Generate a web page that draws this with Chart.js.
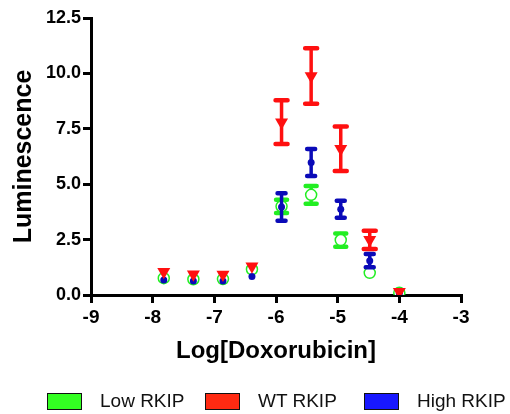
<!DOCTYPE html>
<html>
<head>
<meta charset="utf-8">
<script src="https://cdn.jsdelivr.net/npm/chart.js@4.4.0/dist/chart.umd.min.js"></script>
<style>
  body { margin: 0; background: #fff; font-family: "Liberation Sans", Arial, sans-serif; }
  #wrap { position: relative; width: 510px; height: 414px; }
  .legend { position: absolute; top: 391px; height: 20px; display: flex; align-items: center; font-size: 19px; color: #111; }
  .legend span.box { display: inline-block; width: 33px; height: 15px; border: 1.5px solid #111; margin-right: 18px; }
</style>
</head>
<body>
<div id="wrap">
  <canvas id="myChart" width="510" height="414"></canvas>
  <div class="legend" style="left:47px"><span class="box" style="background:#33ff22"></span>Low RKIP</div>
  <div class="legend" style="left:205px"><span class="box" style="background:#ff2a12"></span>WT RKIP</div>
  <div class="legend" style="left:364px"><span class="box" style="background:#1818ff"></span>High RKIP</div>
</div>
<script>
// log concentrations (3-fold dilutions)
let logDox = [-7.82, -7.34, -6.86, -6.39, -5.91, -5.43, -4.95, -4.48, -4.0]

let lowRkip    = [0.76, 0.71, 0.72, 1.16, 4.00, 4.52, 2.48, 1.00, 0.10]
let lowRkipErr = [0, 0, 0, 0, 0.30, 0.40, 0.30, 0, 0]

let wtRkip    = [1.05, 0.94, 0.92, 1.30, 7.80, 9.88, 6.60, 2.49, 0.15]
let wtRkipErr = [0, 0, 0, 0, 0.99, 1.25, 1.00, 0.41, 0]

let highRkip    = [0.68, 0.63, 0.63, 0.83, 3.97, 5.98, 3.87, 1.55, 0.08]
let highRkipErr = [0, 0, 0, 0, 0.62, 0.61, 0.38, 0.30, 0]

let xTicks = [-9, -8, -7, -6, -5, -4, -3]
let yTicks = [0, 2.5, 5, 7.5, 10, 12.5]

function toPoints(ys) {
    return ys.map((v, i) => ({ x: logDox[i], y: v }))
}

// error bars drawn just before each dataset so markers sit on top
const errorBars = {
    id: 'errorBars',
    beforeDatasetDraw(chart, args) {
        let ds = chart.data.datasets[args.index]
        if (!ds.err) return
        let ctx = chart.ctx, xs = chart.scales.x, ys = chart.scales.y
        ctx.save()
        ctx.strokeStyle = ds.barColor
        ctx.lineCap = 'round'
        ds.data.forEach((p, i) => {
            let e = ds.err[i]
            if (!e) return
            let px = xs.getPixelForValue(p.x)
            let top = ys.getPixelForValue(p.y + e)
            let bot = ys.getPixelForValue(p.y - e)
            let w = ds.capWidth / 2
            ctx.lineWidth = 3.5
            ctx.beginPath()
            ctx.moveTo(px, top); ctx.lineTo(px, bot)
            ctx.stroke()
            ctx.lineWidth = 4.5
            ctx.beginPath()
            ctx.moveTo(px - w, top); ctx.lineTo(px + w, top)
            ctx.moveTo(px - w, bot); ctx.lineTo(px + w, bot)
            ctx.stroke()
        })
        ctx.restore()
    }
}

let ctx = document.querySelector('#myChart').getContext('2d')
let myChart = new Chart(ctx, {
    type: 'scatter',
    data: {
        datasets: [{
            label: 'Low RKIP',
            data: toPoints(lowRkip),
            err: lowRkipErr,
            barColor: '#22ee22',
            capWidth: 11,
            pointStyle: 'circle',
            pointRadius: 5.5,
            pointBorderWidth: 1.5,
            borderColor: '#22ee22',
            backgroundColor: '#ffffff',
            order: 2
        }, {
            label: 'WT RKIP',
            data: toPoints(wtRkip),
            err: wtRkipErr,
            barColor: '#ff1010',
            capWidth: 12,
            pointStyle: 'triangle',
            rotation: 180,
            pointRadius: 7.5,
            pointBorderWidth: 0,
            borderColor: '#ff1010',
            backgroundColor: '#ff1010',
            order: 0
        }, {
            label: 'High RKIP',
            data: toPoints(highRkip),
            err: highRkipErr,
            barColor: '#0a0ab8',
            capWidth: 8,
            pointStyle: 'circle',
            pointRadius: 3.5,
            pointBorderWidth: 0,
            borderColor: '#0a0ab8',
            backgroundColor: '#0a0ab8',
            order: 1
        }]
    },
    options: {
        responsive: false,
        animation: false,
        layout: { padding: { left: 0, top: 18, right: 49, bottom: 0 } },
        plugins: {
            legend: { display: false },
            tooltip: { enabled: false }
        },
        scales: {
            x: {
                type: 'linear',
                min: -9, max: -3,
                afterBuildTicks: s => { s.ticks = xTicks.map(v => ({ value: v })) },
                afterFit: s => { s.height = 119 },
                border: { color: '#000', width: 3 },
                grid: { drawOnChartArea: false, drawTicks: true, tickLength: 8, color: '#000', lineWidth: 3 },
                ticks: {
                    color: '#000', padding: 3,
                    font: { family: 'Liberation Sans', size: 19, weight: 'bold' }
                },
                title: {
                    display: true, text: 'Log[Doxorubicin]', color: '#000',
                    padding: { top: 48, bottom: 48 },
                    font: { family: 'Liberation Sans', size: 24, weight: 'bold' }
                }
            },
            y: {
                min: 0, max: 12.5,
                afterBuildTicks: s => { s.ticks = yTicks.map(v => ({ value: v })) },
                afterFit: s => { s.width = 91 },
                border: { color: '#000', width: 3 },
                grid: { drawOnChartArea: false, drawTicks: true, tickLength: 8, color: '#000', lineWidth: 3 },
                ticks: {
                    color: '#000', padding: 2,
                    callback: v => v.toFixed(1),
                    font: { family: 'Liberation Sans', size: 18, weight: 'bold' }
                },
                title: {
                    display: true, text: 'Luminescence', color: '#000',
                    padding: { top: 9, bottom: 9 },
                    font: { family: 'Liberation Sans', size: 25, weight: 'bold' }
                }
            }
        }
    },
    plugins: [errorBars]
})
</script>
</body>
</html>
